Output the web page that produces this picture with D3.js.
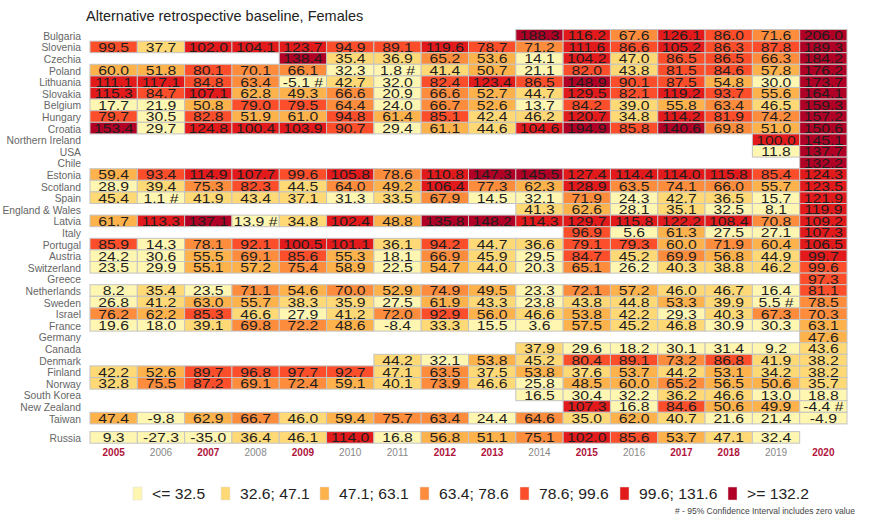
<!DOCTYPE html>
<html>
<head>
<meta charset="utf-8">
<script src="https://cdn.jsdelivr.net/npm/d3@7"></script>
<style>
  body { margin: 0; background: #fff; }
  text { font-family: Arial, "Liberation Sans", sans-serif; }
</style>
</head>
<body>
<script>
// years shown as columns
let years = [2005, 2006, 2007, 2008, 2009, 2010, 2011, 2012, 2013, 2014, 2015, 2016, 2017, 2018, 2019, 2020];
let boldYears = [2005, 2007, 2009, 2012, 2013, 2015, 2017, 2018, 2020];

// countries, top to bottom
let countries = ["Bulgaria", "Slovenia", "Czechia", "Poland", "Lithuania", "Slovakia", "Belgium", "Hungary",
    "Croatia", "Northern Ireland", "USA", "Chile", "Estonia", "Scotland", "Spain", "England & Wales", "Latvia",
    "Italy", "Portugal", "Austria", "Switzerland", "Greece", "Netherlands", "Sweden", "Israel", "France",
    "Germany", "Canada", "Denmark", "Finland", "Norway", "South Korea", "New Zealand", "Taiwan", "Russia"];

// excess values per country, 2005..2020 (null = no data)
let _ = null;
let Bulgaria = [_, _, _, _, _, _, _, _, _, 188.3, 116.2, 67.6, 126.1, 86.0, 71.6, 206.0];
let Slovenia = [99.5, 37.7, 102.0, 104.1, 123.7, 94.9, 89.1, 119.6, 78.7, 71.2, 111.6, 86.6, 105.2, 86.3, 87.8, 189.3];
let Czechia = [_, _, _, _, 138.4, 35.4, 36.9, 65.2, 53.6, 14.1, 104.2, 47.0, 86.5, 86.5, 66.3, 184.2];
let Poland = [60.0, 51.8, 80.1, 70.1, 66.1, 32.3, 1.8, 41.4, 50.7, 21.1, 82.0, 43.8, 81.5, 84.6, 57.8, 176.2];
let Lithuania = [111.1, 117.1, 84.8, 63.4, -5.1, 42.7, 32.0, 82.4, 123.4, 86.5, 148.9, 90.1, 87.5, 54.8, 30.0, 173.7];
let Slovakia = [115.3, 84.7, 107.1, 62.8, 49.3, 66.6, 20.9, 66.6, 52.7, 44.7, 129.5, 82.1, 119.2, 93.7, 55.6, 164.1];
let Belgium = [17.7, 21.9, 50.8, 79.0, 79.5, 64.4, 24.0, 66.7, 52.6, 13.7, 84.2, 39.0, 55.8, 63.4, 46.5, 159.3];
let Hungary = [79.7, 30.5, 82.8, 51.9, 61.0, 94.8, 61.4, 85.1, 42.4, 46.2, 120.7, 34.8, 114.2, 81.9, 74.2, 157.2];
let Croatia = [153.4, 29.7, 124.8, 100.4, 103.9, 90.7, 29.4, 61.1, 44.6, 104.6, 194.9, 85.8, 140.6, 69.8, 51.0, 150.6];
let NorthernIreland = [_, _, _, _, _, _, _, _, _, _, _, _, _, _, 100.0, 145.1];
let USA = [_, _, _, _, _, _, _, _, _, _, _, _, _, _, 11.8, 137.7];
let Chile = [_, _, _, _, _, _, _, _, _, _, _, _, _, _, _, 132.2];
let Estonia = [59.4, 93.4, 114.9, 107.7, 99.6, 105.8, 78.6, 110.8, 147.3, 145.5, 127.4, 114.4, 114.0, 115.8, 85.4, 124.3];
let Scotland = [28.9, 39.4, 75.3, 82.3, 44.5, 64.0, 49.2, 106.4, 77.3, 62.3, 128.9, 63.5, 74.1, 66.0, 55.7, 123.5];
let Spain = [45.4, 1.1, 41.9, 43.4, 37.1, 31.3, 33.5, 67.9, 14.5, 32.1, 71.9, 24.3, 42.7, 36.5, 15.7, 121.9];
let EnglandWales = [_, _, _, _, _, _, _, _, _, 41.3, 62.6, 28.1, 35.1, 32.5, 8.1, 119.9];
let Latvia = [61.7, 113.3, 137.1, 13.9, 34.8, 102.4, 48.8, 135.8, 148.2, 114.3, 129.7, 115.8, 122.2, 108.4, 70.8, 109.2];
let Italy = [_, _, _, _, _, _, _, _, _, _, 96.9, 5.6, 61.3, 27.5, 27.1, 107.3];
let Portugal = [85.9, 14.3, 78.1, 92.1, 100.5, 101.1, 36.1, 94.2, 44.7, 36.6, 79.1, 79.3, 60.0, 71.9, 60.4, 106.5];
let Austria = [24.2, 30.6, 55.5, 69.1, 85.6, 55.3, 18.1, 66.9, 45.9, 29.5, 84.7, 45.2, 69.9, 56.8, 44.9, 99.7];
let Switzerland = [23.5, 29.9, 55.1, 57.2, 75.4, 58.9, 22.5, 54.7, 44.0, 20.3, 65.1, 26.2, 40.3, 38.8, 46.2, 99.6];
let Greece = [_, _, _, _, _, _, _, _, _, _, _, _, _, _, _, 97.3];
let Netherlands = [8.2, 35.4, 23.5, 71.1, 54.6, 70.0, 52.9, 74.9, 49.5, 23.3, 72.1, 57.2, 46.0, 46.7, 16.4, 81.1];
let Sweden = [26.8, 41.2, 63.0, 55.7, 38.3, 35.9, 27.5, 61.9, 43.3, 23.8, 43.8, 44.8, 53.3, 39.9, 5.5, 78.5];
let Israel = [76.2, 62.2, 85.3, 46.6, 27.9, 41.2, 72.0, 92.9, 56.0, 46.6, 53.8, 42.2, 29.3, 40.3, 67.3, 70.3];
let France = [19.6, 18.0, 39.1, 69.8, 72.2, 48.6, -8.4, 33.3, 15.5, 3.6, 57.5, 45.2, 46.8, 30.9, 30.3, 63.1];
let Germany = [_, _, _, _, _, _, _, _, _, _, _, _, _, _, _, 47.6];
let Canada = [_, _, _, _, _, _, _, _, _, 37.9, 29.6, 18.2, 30.1, 31.4, 9.2, 43.6];
let Denmark = [_, _, _, _, _, _, 44.2, 32.1, 53.8, 45.2, 80.4, 89.1, 73.2, 86.8, 41.9, 38.2];
let Finland = [42.2, 52.6, 89.7, 96.8, 97.7, 92.7, 47.1, 63.5, 37.5, 53.8, 37.6, 53.7, 44.2, 53.1, 34.2, 38.2];
let Norway = [32.8, 75.5, 87.2, 69.1, 72.4, 59.1, 40.1, 73.9, 46.6, 25.8, 48.5, 60.0, 65.2, 56.5, 50.6, 35.7];
let SouthKorea = [_, _, _, _, _, _, _, _, _, 16.5, 30.4, 32.2, 36.2, 46.6, 13.0, 18.8];
let NewZealand = [_, _, _, _, _, _, _, _, _, _, 107.3, 16.8, 84.6, 50.6, 49.9, -4.4];
let Taiwan = [47.4, -9.8, 62.9, 66.7, 46.0, 59.4, 75.7, 63.4, 24.4, 64.6, 35.0, 62.0, 40.7, 21.6, 21.4, -4.9];
let Russia = [9.3, -27.3, -35.0, 36.4, 46.1, 114.0, 16.8, 56.8, 51.1, 75.1, 102.0, 85.6, 53.7, 47.1, 32.4, _];

let values = [Bulgaria, Slovenia, Czechia, Poland, Lithuania, Slovakia, Belgium, Hungary, Croatia,
    NorthernIreland, USA, Chile, Estonia, Scotland, Spain, EnglandWales, Latvia, Italy, Portugal, Austria,
    Switzerland, Greece, Netherlands, Sweden, Israel, France, Germany, Canada, Denmark, Finland, Norway,
    SouthKorea, NewZealand, Taiwan, Russia];

// cells where the 95% CI includes zero
let flagged = [["Poland", 2011], ["Lithuania", 2009], ["Spain", 2006], ["Latvia", 2008], ["Sweden", 2019], ["New Zealand", 2020]];

// legend classes
let legendLabels = ["<=  32.5", "32.6; 47.1", "47.1; 63.1", "63.4; 78.6", "78.6; 99.6", "99.6; 131.6", ">= 132.2"];
let breaks = [32.55, 47.15, 63.25, 78.65, 99.65, 132];
let colors = ["#fff6b2", "#fed976", "#feb24c", "#fd8d3c", "#fc4e2a", "#e31a1c", "#b10026"];

let w = 869;
let h = 518;

let svg = d3.select("body")
    .append("svg")
    .attr("width", w)
    .attr("height", h);

// title
svg.append("text")
    .attr("x", 86)
    .attr("y", 21)
    .style("font-size", "14.5px")
    .attr("fill", "#222")
    .text("Alternative retrospective baseline, Females");

let x = d3.scaleBand().domain(years).range([90, 847]);
let yBand = d3.scaleBand().domain(countries).range([29.5, 29.5 + countries.length * 11.6]);
// Russia sits a little apart from the others
let y = function(c) { return yBand(c) + (c === "Russia" ? 7.7 : 0); };
let color = d3.scaleThreshold().domain(breaks).range(colors);

// flatten to cells
let cells = [];
countries.forEach(function(c, i) {
    years.forEach(function(yr, j) {
        let v = values[i][j];
        if (v !== null) {
            let flag = flagged.some(function(f) { return f[0] === c && f[1] === yr; });
            cells.push({ country: c, year: yr, value: v, flag: flag });
        }
    });
});

// cell rectangles
svg.selectAll("rect.cell")
    .data(cells)
    .enter()
    .append("rect")
    .attr("class", "cell")
    .attr("x", function(d) { return x(d.year); })
    .attr("y", function(d) { return y(d.country); })
    .attr("width", x.bandwidth())
    .attr("height", yBand.bandwidth())
    .attr("fill", function(d) { return color(d.value); })
    .attr("stroke", "#c4c4c4")
    .attr("stroke-width", 1);

// cell values
svg.selectAll("text.val")
    .data(cells)
    .enter()
    .append("text")
    .attr("class", "val")
    .attr("transform", function(d) {
        return "translate(" + (x(d.year) + x.bandwidth() / 2) + "," + (y(d.country) + yBand.bandwidth() / 2 + 0.5) + ") scale(1.26,1)";
    })
    .attr("text-anchor", "middle")
    .attr("dominant-baseline", "central")
    .style("font-size", "12.5px")
    .attr("fill", "#1e1e1e")
    .text(function(d) { return d.value.toFixed(1) + (d.flag ? " #" : ""); });

// row labels
svg.selectAll("text.row")
    .data(countries)
    .enter()
    .append("text")
    .attr("class", "row")
    .attr("x", 81)
    .attr("y", function(d) { return y(d) + yBand.bandwidth() / 2 + 1; })
    .attr("text-anchor", "end")
    .attr("dominant-baseline", "central")
    .style("font-size", "10.3px")
    .attr("fill", "#666")
    .text(function(d) { return d; });

// year labels
svg.selectAll("text.year")
    .data(years)
    .enter()
    .append("text")
    .attr("class", "year")
    .attr("x", function(d) { return x(d) + x.bandwidth() / 2; })
    .attr("y", 456)
    .attr("text-anchor", "middle")
    .style("font-size", "10px")
    .style("font-weight", function(d) { return boldYears.includes(d) ? "bold" : "normal"; })
    .attr("fill", function(d) { return boldYears.includes(d) ? "#b0143c" : "#888"; })
    .text(function(d) { return d; });

// legend
let legendX = [133, 221, 320, 420, 520, 620, 728];
let legend = svg.selectAll("g.leg")
    .data(legendLabels)
    .enter()
    .append("g")
    .attr("class", "leg")
    .attr("transform", function(d, i) { return "translate(" + legendX[i] + ",487)"; });

legend.append("rect")
    .attr("width", 9)
    .attr("height", 13)
    .attr("fill", function(d, i) { return colors[i]; })
    .attr("stroke", "#ddd")
    .attr("stroke-width", 0.5);

legend.append("text")
    .attr("transform", "translate(19,12) scale(1.12,1)")
    .style("font-size", "14px")
    .attr("fill", "#222")
    .text(function(d) { return d; });

// footnote
svg.append("text")
    .attr("x", 855)
    .attr("y", 514)
    .attr("text-anchor", "end")
    .style("font-size", "8.5px")
    .attr("fill", "#444")
    .text("# - 95% Confidence Interval includes zero value");
</script>
</body>
</html>
